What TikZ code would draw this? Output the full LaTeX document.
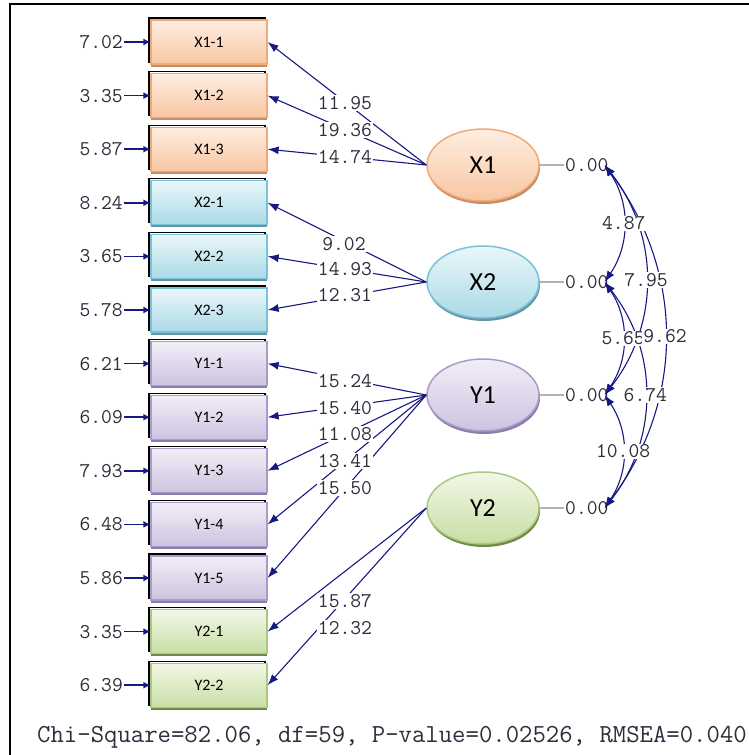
\documentclass[tikz,border=0pt]{standalone}
\usepackage{fontspec}
\setmainfont{Carlito}
\usetikzlibrary{shapes.geometric,arrows.meta}
\definecolor{pathblue}{RGB}{24, 24, 130}
\definecolor{numtext}{RGB}{45, 45, 60}
\definecolor{xoneborder}{RGB}{240, 170, 120}
\definecolor{xonelight}{RGB}{254, 238, 226}
\definecolor{xonedark}{RGB}{248, 198, 162}
\definecolor{xoneshadow}{RGB}{200, 140, 100}
\definecolor{xtwoborder}{RGB}{120, 195, 215}
\definecolor{xtwolight}{RGB}{234, 246, 250}
\definecolor{xtwodark}{RGB}{170, 218, 230}
\definecolor{xtwoshadow}{RGB}{100, 150, 165}
\definecolor{yoneborder}{RGB}{170, 155, 200}
\definecolor{yonelight}{RGB}{242, 238, 247}
\definecolor{yonedark}{RGB}{205, 195, 225}
\definecolor{yoneshadow}{RGB}{140, 125, 170}
\definecolor{ytwoborder}{RGB}{170, 200, 130}
\definecolor{ytwolight}{RGB}{242, 247, 230}
\definecolor{ytwodark}{RGB}{200, 222, 165}
\definecolor{ytwoshadow}{RGB}{110, 140, 70}
\tikzset{
	indicator/.style={rectangle, draw=#1border, line width=1.2pt, top color=#1light, bottom color=#1dark, minimum width=116pt, minimum height=44pt, inner sep=0pt, font=\fontsize{16}{16}\selectfont, preaction={draw=black, line width=1.2pt, transform canvas={shift={(-2pt,2pt)}}}, preaction={fill=#1shadow, transform canvas={shift={(0pt,-2.5pt)}}}},
	latent/.style={ellipse, draw=#1border, line width=1.5pt, top color=#1light, bottom color=#1dark, minimum width=112pt, minimum height=72pt, inner sep=0pt, font=\fontsize{26}{26}\selectfont, preaction={fill=#1shadow, transform canvas={shift={(1pt,-3pt)}}}},
	numfont/.style={font=\ttfamily\fontsize{21}{21}\selectfont, text=numtext, inner sep=1pt},
	errnum/.style={numfont, anchor=east},
	loadnum/.style={numfont, fill=white},
	zeronum/.style={numfont, anchor=west},
	covnum/.style={numfont, fill=white},
	errarrow/.style={draw=pathblue, line width=1.6pt, -{Latex[length=7pt,width=7pt]}},
	loading/.style={draw=pathblue, line width=1.1pt, -{Latex[length=11pt,width=8pt]}},
	cov/.style={draw=pathblue, line width=1.1pt, {Latex[length=11pt,width=8pt]}-{Latex[length=11pt,width=8pt]}},
	zeroline/.style={draw=black!30, line width=1.2pt}
}
\begin{document}
\begin{tikzpicture}[x=1pt, y=-1pt]
	\useasboundingbox (0,0) rectangle (749,755);
	\draw [line width=1.5pt] (10,755) -- (10,4) -- (749,4);

	\node [indicator=xone] (x11) at (209,42) {X1-1};
	\node [indicator=xone] (x12) at (209,95.6) {X1-2};
	\node [indicator=xone] (x13) at (209,149.2) {X1-3};
	\node [indicator=xtwo] (x21) at (209,202.8) {X2-1};
	\node [indicator=xtwo] (x22) at (209,256.4) {X2-2};
	\node [indicator=xtwo] (x23) at (209,310) {X2-3};
	\node [indicator=yone] (y11) at (209,363.6) {Y1-1};
	\node [indicator=yone] (y12) at (209,417.2) {Y1-2};
	\node [indicator=yone] (y13) at (209,470.8) {Y1-3};
	\node [indicator=yone] (y14) at (209,524.4) {Y1-4};
	\node [indicator=yone] (y15) at (209,578) {Y1-5};
	\node [indicator=ytwo] (y21) at (209,631.6) {Y2-1};
	\node [indicator=ytwo] (y22) at (209,685.2) {Y2-2};

	\node [errnum] (ex11) at (124,42) {7.02};
	\node [errnum] (ex12) at (124,95.6) {3.35};
	\node [errnum] (ex13) at (124,149.2) {5.87};
	\node [errnum] (ex21) at (124,202.8) {8.24};
	\node [errnum] (ex22) at (124,256.4) {3.65};
	\node [errnum] (ex23) at (124,310) {5.78};
	\node [errnum] (ey11) at (124,363.6) {6.21};
	\node [errnum] (ey12) at (124,417.2) {6.09};
	\node [errnum] (ey13) at (124,470.8) {7.93};
	\node [errnum] (ey14) at (124,524.4) {6.48};
	\node [errnum] (ey15) at (124,578) {5.86};
	\node [errnum] (ey21) at (124,631.6) {3.35};
	\node [errnum] (ey22) at (124,685.2) {6.39};

	\draw [errarrow] (ex11) -- (x11);
	\draw [errarrow] (ex12) -- (x12);
	\draw [errarrow] (ex13) -- (x13);
	\draw [errarrow] (ex21) -- (x21);
	\draw [errarrow] (ex22) -- (x22);
	\draw [errarrow] (ex23) -- (x23);
	\draw [errarrow] (ey11) -- (y11);
	\draw [errarrow] (ey12) -- (y12);
	\draw [errarrow] (ey13) -- (y13);
	\draw [errarrow] (ey14) -- (y14);
	\draw [errarrow] (ey15) -- (y15);
	\draw [errarrow] (ey21) -- (y21);
	\draw [errarrow] (ey22) -- (y22);

	\node [latent=xone] (lx1) at (483,165) {X1};
	\node [latent=xtwo] (lx2) at (483,282) {X2};
	\node [latent=yone] (ly1) at (483,395) {Y1};
	\node [latent=ytwo] (ly2) at (483,508) {Y2};

	\draw [loading] (lx1.west) -- (x11.east);
	\draw [loading] (lx1.west) -- (x12.east);
	\draw [loading] (lx1.west) -- (x13.east);
	\draw [loading] (lx2.west) -- (x21.east);
	\draw [loading] (lx2.west) -- (x22.east);
	\draw [loading] (lx2.west) -- (x23.east);
	\draw [loading] (ly1.west) -- (y11.east);
	\draw [loading] (ly1.west) -- (y12.east);
	\draw [loading] (ly1.west) -- (y13.east);
	\draw [loading] (ly1.west) -- (y14.east);
	\draw [loading] (ly1.west) -- (y15.east);
	\draw [loading] (ly2.west) -- (y21.east);
	\draw [loading] (ly2.west) -- (y22.east);

	\node [loadnum] (lx11) at (345,103) {11.95};
	\node [loadnum] (lx12) at (345,130) {19.36};
	\node [loadnum] (lx13) at (345,157) {14.74};
	\node [loadnum] (lx21) at (344,244) {9.02};
	\node [loadnum] (lx22) at (345,269) {14.93};
	\node [loadnum] (lx23) at (345,295) {12.31};
	\node [loadnum] (ly11) at (345,381) {15.24};
	\node [loadnum] (ly12) at (345,408) {15.40};
	\node [loadnum] (ly13) at (345,434) {11.08};
	\node [loadnum] (ly14) at (345,461) {13.41};
	\node [loadnum] (ly15) at (345,488) {15.50};
	\node [loadnum] (ly21) at (345,601) {15.87};
	\node [loadnum] (ly22) at (345,628) {12.32};

	\node [zeronum] (zx1) at (564,165) {0.00};
	\node [zeronum] (zx2) at (564,282) {0.00};
	\node [zeronum] (zy1) at (564,395) {0.00};
	\node [zeronum] (zy2) at (564,508) {0.00};
	\draw [zeroline] (lx1.east) -- (zx1.west);
	\draw [zeroline] (lx2.east) -- (zx2.west);
	\draw [zeroline] (ly1.east) -- (zy1.west);
	\draw [zeroline] (ly2.east) -- (zy2.west);

	\draw [cov] ([xshift=-5pt]zx1.east) to [bend left=34] coordinate [pos=0.5] (m12) ([xshift=-5pt]zx2.east);
	\draw [cov] ([xshift=-5pt]zx2.east) to [bend left=34] coordinate [pos=0.5] (m23) ([xshift=-5pt]zy1.east);
	\draw [cov] ([xshift=-5pt]zy1.east) to [bend left=34] coordinate [pos=0.5] (m34) ([xshift=-5pt]zy2.east);
	\draw [cov] ([xshift=-5pt]zx1.east) to [bend left=38] coordinate [pos=0.5] (m13) ([xshift=-5pt]zy1.east);
	\draw [cov] ([xshift=-5pt]zx2.east) to [bend left=38] coordinate [pos=0.5] (m24) ([xshift=-5pt]zy2.east);
	\draw [cov] ([xshift=-5pt]zx1.east) to [bend left=37] coordinate [pos=0.5] (m14) ([xshift=-5pt]zy2.east);

	\node [covnum] (c12) at (m12) {4.87};
	\node [covnum] (c13) at (m13) {7.95};
	\node [covnum] (c23) at (m23) {5.65};
	\node [covnum] (c14) at (m14) {9.62};
	\node [covnum] (c24) at (m24) {6.74};
	\node [covnum] (c34) at (m34) {10.08};

	\node [font=\ttfamily\fontsize{26}{26}\selectfont, text=numtext, anchor=west, inner sep=0pt] (fitline) at (37,737) {Chi-Square=82.06, df=59, P-value=0.02526, RMSEA=0.040};
\end{tikzpicture}
\end{document}
